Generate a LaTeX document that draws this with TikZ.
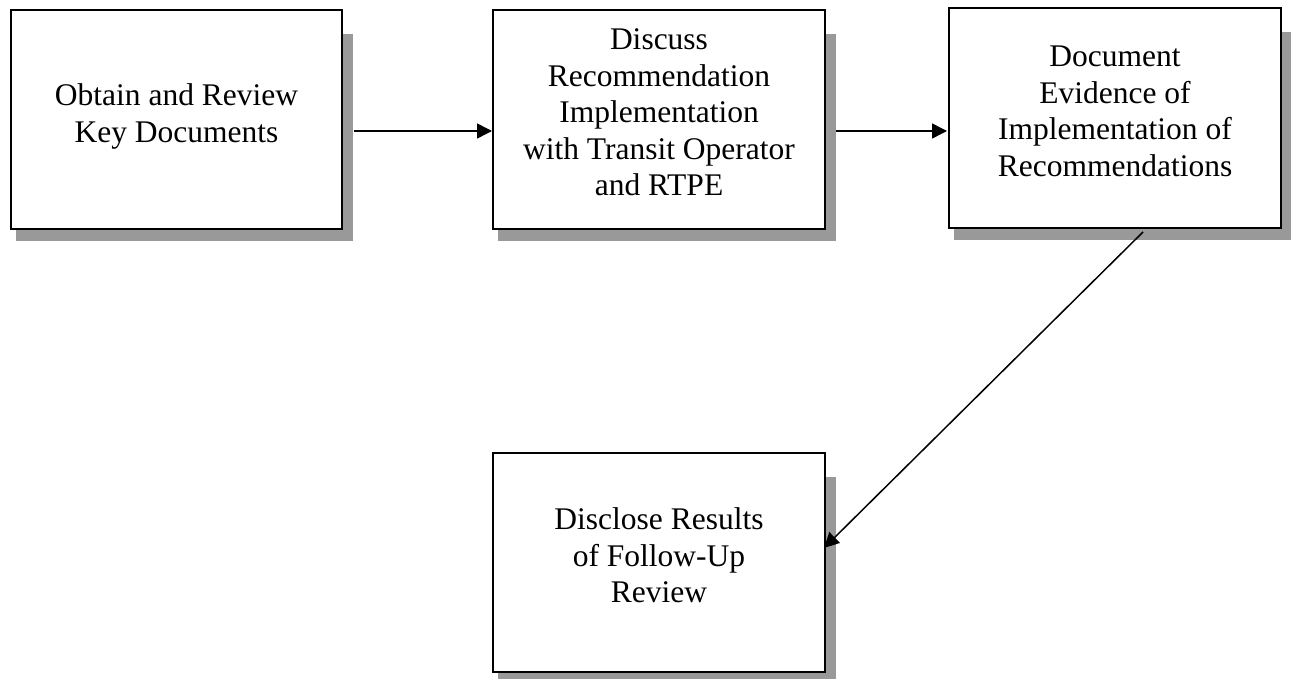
\documentclass[tikz,border=0pt]{standalone}
\usepackage{fontspec}
\setmainfont{Liberation Serif}
\usetikzlibrary{arrows.meta,backgrounds}

\definecolor{shadowgray}{HTML}{999999}

\tikzset{
  stepbox/.style={draw=black, line width=2pt, fill=white,
    minimum width=#1, minimum height=219pt, inner sep=0pt},
  stepbox/.default=332pt,
  steptext/.style={align=center, inner sep=0pt,
    font=\fontsize{31.5}{36.6}\selectfont},
  flow/.style={line width=1.5pt,
    -{Triangle[length=15pt,width=15pt]}},
}

\newcommand{\dropshadow}[1]{%
  \fill[shadowgray] ([xshift=6pt,yshift=-25pt]#1.north west)
    rectangle ([xshift=10pt,yshift=-11.5pt]#1.south east);}

\begin{document}
\begin{tikzpicture}[x=1pt,y=-1pt]
  \useasboundingbox (0,0) rectangle (1291,679);

  % process boxes
  \node[stepbox=331pt] (b1) at (176.5,119.5) {};
  \node[stepbox]       (b2) at (659,119.5) {};
  \node[stepbox, minimum height=220pt] (b3) at (1115,118) {};
  \node[stepbox]       (b4) at (659,562.5) {};

  % drop shadows behind the boxes
  \begin{pgfonlayer}{background}
    \dropshadow{b1}
    \dropshadow{b2}
    \dropshadow{b3}
    \dropshadow{b4}
  \end{pgfonlayer}

  % box captions
  \node[steptext] (t1) at ([yshift=3pt]b1.center)
    {Obtain and Review\\Key Documents};
  \node[steptext] (t2) at ([yshift=7pt]b2.center)
    {Discuss\\Recommendation\\Implementation\\with Transit Operator\\and RTPE};
  \node[steptext] (t3) at ([yshift=6.5pt]b3.center)
    {Document\\Evidence of\\Implementation of\\Recommendations};
  \node[steptext] (t4) at ([yshift=7pt]b4.center)
    {Disclose Results\\of Follow-Up\\Review};

  % flow arrows
  \draw[flow] ([xshift=11pt,yshift=-11.5pt]b1.east) -- ([yshift=-11.5pt]b2.west);
  \draw[flow] ([xshift=10pt,yshift=-11.5pt]b2.east) -- ([xshift=-1pt,yshift=-13pt]b3.west);
  \draw[flow] ([xshift=28pt,yshift=-3pt]b3.south) -- ([xshift=-2pt,yshift=14.5pt]b4.east);
\end{tikzpicture}
\end{document}
